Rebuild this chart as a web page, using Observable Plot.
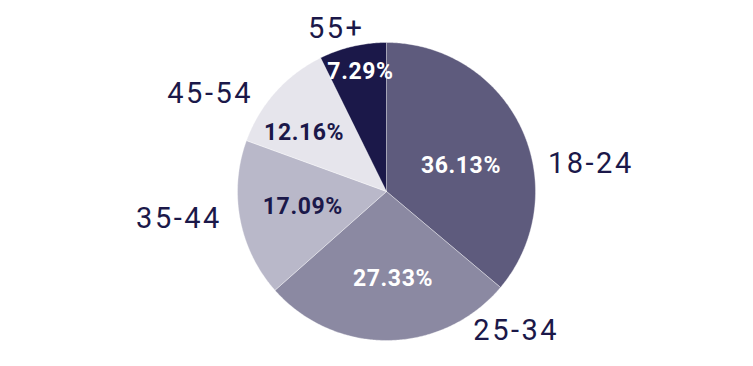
<!DOCTYPE html>
<html>
<head>
<meta charset="utf-8">
<script src="https://cdn.jsdelivr.net/npm/d3@7"></script>
<script src="https://cdn.jsdelivr.net/npm/@observablehq/plot@0.6"></script>
<style>
  html, body { margin: 0; padding: 0; background: #fff; }
  .cat text { letter-spacing: 2.5px; }
  .pct text { letter-spacing: 0.6px; }
</style>
</head>
<body>
<div id="chart"></div>
<script>
// ---- data ----
const categories = ["18-24", "25-34", "35-44", "45-54", "55+"];
const shares = [36.13, 27.33, 17.09, 12.16, 7.29];
const percentLabels = ["36.13%", "27.33%", "17.09%", "12.16%", "7.29%"];

// ---- style / layout (not data) ----
const sliceColors = ["#5e5b7d", "#8b89a2", "#b9b8c9", "#e6e5ec", "#1b1849"];
const pctTextColors = ["#ffffff", "#ffffff", "#1b1849", "#1b1849", "#ffffff"];
const pctR = [0.53, 0.585, 0.57, 0.68, 0.82];
const pctA = [70.6, 175.7, 260, 305.6, 347.7];
const catR = [1.10, 1.10, 1.12, 1.11, 1.10];
const catA = [80.2, 148, 260.7, 306.2, 352.3];
const catAnchor = ["start", "start", "end", "end", "end"];

const rad = d => d * Math.PI / 180;
const pie = d3.pie().sort(null).startAngle(0).endAngle(2 * Math.PI)(shares);

// polygon outline points for each slice (unit circle, angle clockwise from 12 o'clock)
const slicePts = [];
pie.forEach((p, i) => {
  const n = Math.max(4, Math.ceil((p.endAngle - p.startAngle) / 0.01));
  slicePts.push({cat: categories[i], x: 0, y: 0});
  for (let k = 0; k <= n; k++) {
    const a = p.startAngle + (p.endAngle - p.startAngle) * k / n;
    slicePts.push({cat: categories[i], x: Math.sin(a), y: Math.cos(a)});
  }
  slicePts.push({cat: categories[i], x: 0, y: 0});
});

const pctRows = categories.map((c, i) => ({
  text: percentLabels[i], color: pctTextColors[i],
  x: pctR[i] * Math.sin(rad(pctA[i])), y: pctR[i] * Math.cos(rad(pctA[i]))
}));
const catRows = categories.map((c, i) => ({
  text: c, anchor: catAnchor[i],
  x: catR[i] * Math.sin(rad(catA[i])), y: catR[i] * Math.cos(rad(catA[i]))
}));

const chart = Plot.plot({
  width: 753,
  height: 366,
  margin: 0,
  style: {fontFamily: "Roboto, sans-serif", background: "#fff"},
  x: {domain: [-1, 1], range: [237, 535], axis: null},
  y: {domain: [-1, 1], range: [340, 42], axis: null},
  color: {domain: categories, range: sliceColors},
  marks: [
    Plot.line(slicePts, {x: "x", y: "y", z: "cat", fill: "cat", stroke: "#ffffff", strokeWidth: 0.6, strokeOpacity: 0.6, curve: "linear"}),
    ...["start", "end"].map(anc => Plot.text(catRows.filter(d => d.anchor === anc), {
      x: "x", y: "y", text: "text", textAnchor: anc, fill: "#1b1849",
      fontSize: 29, fontWeight: 400, className: "cat"
    })),
    ...["#ffffff", "#1b1849"].map(col => Plot.text(pctRows.filter(d => d.color === col), {
      x: "x", y: "y", text: "text", fill: col,
      fontSize: 23, fontWeight: 700, className: "pct"
    }))
  ]
});
document.getElementById("chart").appendChild(chart);
</script>
</body>
</html>
